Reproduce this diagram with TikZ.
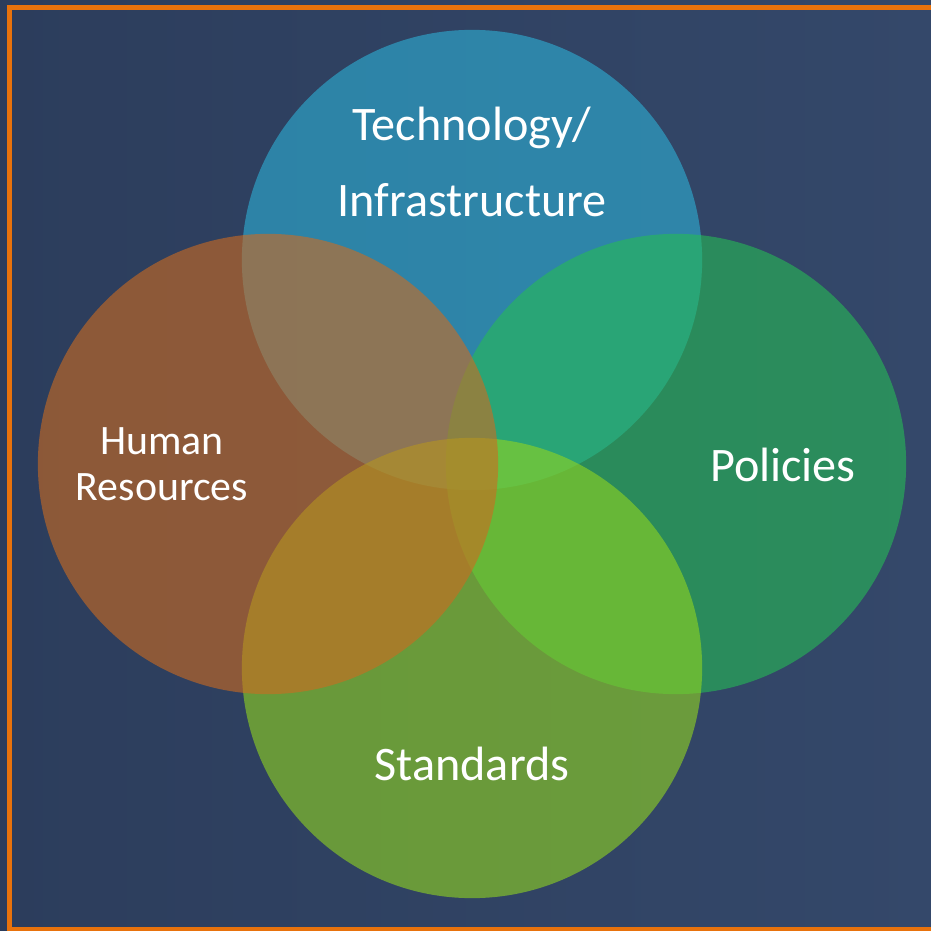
\documentclass[tikz,border=0pt]{standalone}
\usepackage{fontspec}
\setmainfont{Carlito}
\begin{document}
\begin{tikzpicture}[x=0.01cm,y=-0.01cm,
  blob/.style={circle,minimum size=4.6cm,inner sep=0pt,fill opacity=0.6,draw=none},
  lbl/.style={text=white,font=\fontsize{13.7pt}{16.5pt}\selectfont,align=center,inner sep=0pt}]
\definecolor{bgA}{HTML}{2C3D5C}
\definecolor{bgB}{HTML}{34486A}
\definecolor{frame}{HTML}{E8720C}
\definecolor{cTop}{RGB}{45,177,215}
\definecolor{cLeft}{RGB}{205,107,32}
\definecolor{cRight}{RGB}{38,187,85}
\definecolor{cBot}{RGB}{145,213,32}
\useasboundingbox (0,0) rectangle (931,931);
\shade[left color=bgA,right color=bgB] (0,0) rectangle (931,931);
\fill[frame] (7,5) rectangle (931,10);
\fill[frame] (7,5) rectangle (12,931);
\fill[frame] (7,927) rectangle (931,931);
\node[blob,fill=cTop] (ctop) at (472,260) {};
\node[blob,fill=cRight] (cright) at (676,464) {};
\node[blob,fill=cBot] (cbot) at (472,668) {};
\node[blob,fill=cLeft] (cleft) at (268,464) {};
\node[lbl] (t1) at (472,128) {Technology/};
\node[lbl] (t2) at (472,200) {Infrastructure};
\node[lbl,font=\fontsize{11.9pt}{13.1pt}\selectfont] (hr) at (162,464) {Human\\Resources};
\node[lbl] (pol) at (783,465) {Policies};
\node[lbl] (std) at (472,764) {Standards};
\end{tikzpicture}
\end{document}
